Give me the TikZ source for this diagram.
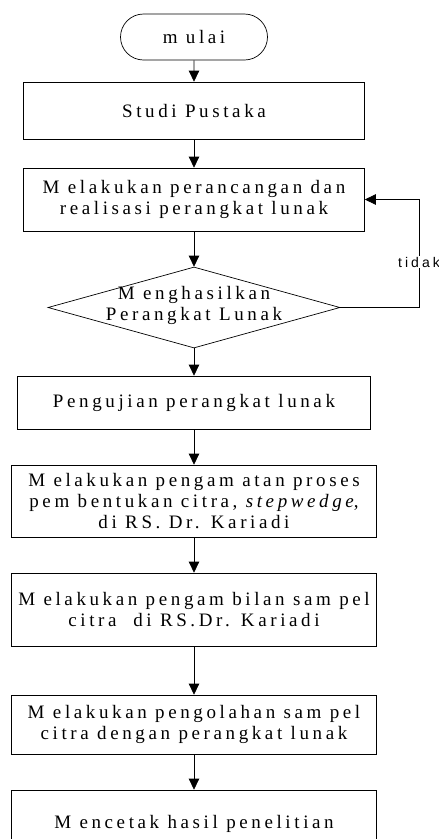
\documentclass[tikz,border=0pt]{standalone}
\usepackage{fontspec}
\setmainfont{Liberation Serif}[LetterSpace=19]
\newfontfamily\tidakfont{Liberation Sans}[LetterSpace=22]
\usetikzlibrary{arrows.meta,shapes.geometric,shapes.misc}

\tikzset{
  kotak/.style={draw, line width=0.7pt, inner sep=0pt, align=center,
    font=\fontsize{19}{21}\selectfont},
  terminal/.style={kotak, rounded rectangle},
  keputusan/.style={draw, line width=0.7pt, diamond, inner sep=0pt},
  alur/.style={line width=0.7pt, -{Triangle[width=10.5pt,length=11pt]}},
  labeltidak/.style={fill=white, inner sep=1pt, font=\tidakfont\fontsize{14}{16}\selectfont}
}

\begin{document}
\begin{tikzpicture}[x=1pt,y=-1pt]
            \clip (0,0) rectangle (439,839);

            \node[terminal, minimum width=147pt, minimum height=46pt] (Mulai) at (194,37) {m ulai};
            \node[kotak, minimum width=341pt, minimum height=57pt] (StudiPustaka) at (194,110.5) {Studi Pustaka};
            \node[kotak, minimum width=341pt, minimum height=63pt] (Perancangan) at (194,199.5)
                {M elakukan perancangan dan\\realisasi perangkat lunak};
            \node[keputusan, minimum width=292pt, minimum height=81pt] (Menghasilkan) at (194,307.5) {};
            \node[kotak, draw=none] (MenghasilkanText) at (194,305) {M enghasilkan\\Perangkat Lunak};
            \node[kotak, minimum width=353pt, minimum height=53pt] (Pengujian) at (194,402.5) {Pengujian perangkat lunak};
            \node[kotak, minimum width=365pt, minimum height=72pt] (Pengamatan) at (194,501)
                {M elakukan pengam atan proses\\pem bentukan citra, \textit{stepwedge},\\di RS. Dr. Kariadi};
            \node[kotak, minimum width=365pt, minimum height=73pt] (Pengambilan) at (194,609.5)
                {M elakukan pengam bilan sam pel\\citra\ \ di RS.Dr. Kariadi};
            \node[kotak, minimum width=365pt, minimum height=59pt] (Pengolahan) at (194,724.5)
                {M elakukan pengolahan sam pel\\citra dengan perangkat lunak};
            \node[kotak, minimum width=365pt, minimum height=68pt] (Mencetak) at (194,824) {M encetak hasil penelitian};
            \coordinate (LoopCorner) at (419,307.5);

            \draw[alur] (Mulai) -- (StudiPustaka);
            \draw[alur] (StudiPustaka) -- (Perancangan);
            \draw[alur] (Perancangan) -- (Menghasilkan.north);
            \draw[alur] (Menghasilkan.south) -- (Pengujian);
            \draw[alur] (Pengujian) -- (Pengamatan);
            \draw[alur] (Pengamatan) -- (Pengambilan);
            \draw[alur] (Pengambilan) -- (Pengolahan);
            \draw[alur] (Pengolahan) -- (Mencetak);
            \draw[alur] (Menghasilkan.east) -- (LoopCorner) |- node[labeltidak, pos=0.21] {tidak} (Perancangan.east);
        \end{tikzpicture}
\end{document}
